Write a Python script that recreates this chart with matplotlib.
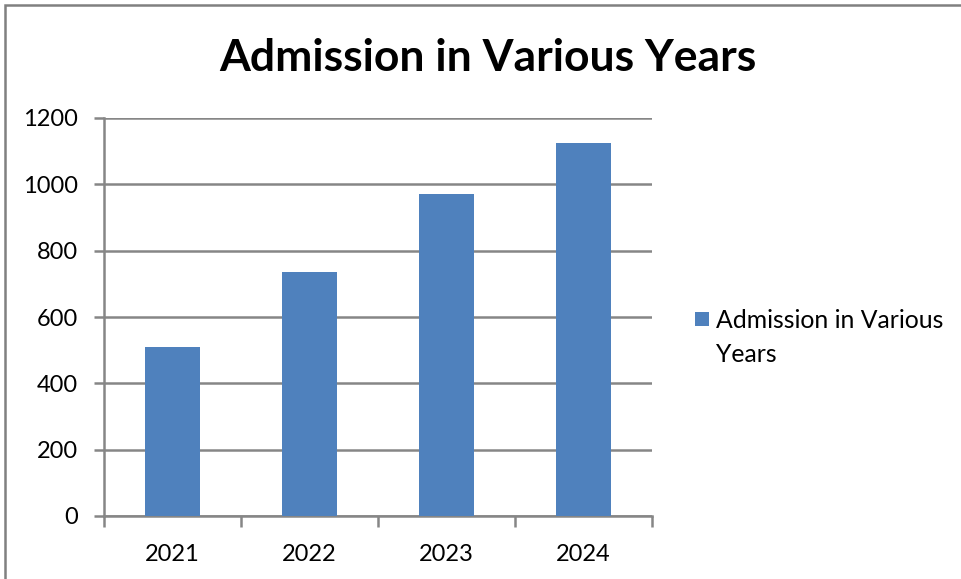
import matplotlib
matplotlib.use("Agg")
import matplotlib.pyplot as plt
from matplotlib.patches import Rectangle

years = ["2021", "2022", "2023", "2024"]
admissions = [510, 735, 970, 1125]
yticks = [0, 200, 400, 600, 800, 1000, 1200]
title = "Admission in Various Years"
legend_label = "Admission in Various\nYears"

W, H = 961, 579
fig = plt.figure(figsize=(W / 100, H / 100), dpi=100)
plt.rcParams['font.family'] = ['Lato', 'DejaVu Sans']

grid_c = "#868686"
bar_c = "#4F81BD"

ax = fig.add_axes([104 / W, 1 - 516 / H, (652 - 104) / W, (516 - 118) / H])
x = list(range(len(years)))
ax.bar(x, admissions, width=0.4, color=bar_c, zorder=3, label=legend_label)
ax.set_xlim(-0.5, len(years) - 0.5)
ax.set_ylim(0, 1200)
ax.set_yticks(yticks)
ax.set_yticklabels([str(v) for v in yticks], fontsize=17, color="#000000")
for v in yticks:
    ax.axhline(v, color=grid_c, lw=1.8, zorder=1)
ax.set_xticks(x)
ax.set_xticklabels(years, fontsize=17)
ax.tick_params(axis="x", length=0, pad=20)
ax.tick_params(axis="y", length=7, width=1.8, color=grid_c, pad=12)
# category boundary ticks
ax.set_xticks([i - 0.5 for i in range(len(years) + 1)], minor=True)
ax.tick_params(axis="x", which="minor", length=8, width=1.8, color=grid_c)
for s in ["top", "right"]:
    ax.spines[s].set_visible(False)
for s in ["left", "bottom"]:
    ax.spines[s].set_color(grid_c)
    ax.spines[s].set_linewidth(1.8)

fig.text(488 / W, 1 - 58 / H, title, fontsize=32, fontweight="bold",
         ha="center", va="center")

# legend (marker aligned with first text line, as in the original)
fig.patches.append(Rectangle((695 / W, 1 - 326 / H), 14 / W, 14 / H,
                             transform=fig.transFigure, facecolor=bar_c,
                             edgecolor="none"))
fig.text(716 / W, 1 - 309 / H, legend_label, fontsize=17.8, ha="left",
         va="top", linespacing=1.58)

# outer chart frame
fig.patches.append(Rectangle((5 / W, -0.1), 1.1, 1 - 5 / H + 0.1,
                             transform=fig.transFigure, fill=False,
                             edgecolor="#808080", lw=1.8))

fig.savefig("out.png", dpi=100)
